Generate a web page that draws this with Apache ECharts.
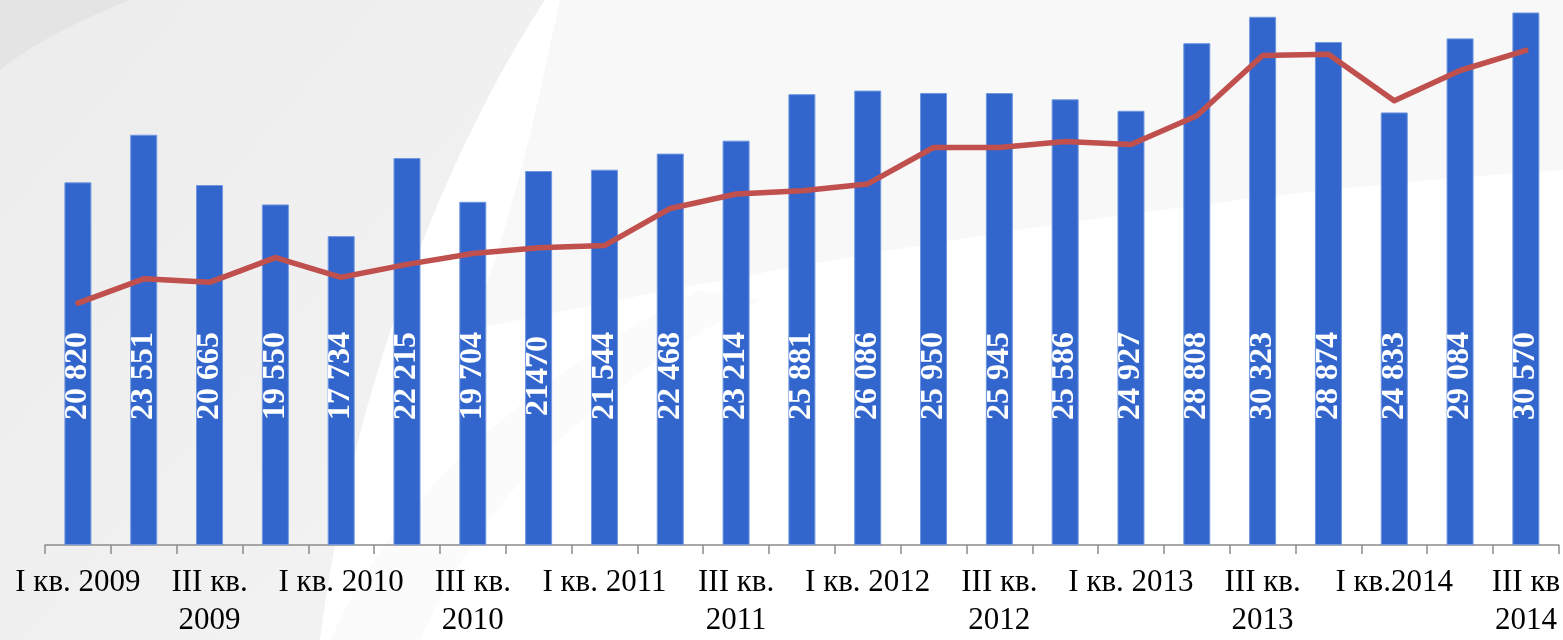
<!DOCTYPE html>
<html>
<head>
<meta charset="utf-8">
<script src="https://cdn.jsdelivr.net/npm/echarts@6/dist/echarts.min.js"></script>
<style>
html,body{margin:0;padding:0;background:#fff;}
#wrap{position:relative;width:1563px;height:640px;overflow:hidden;}
#bg{position:absolute;left:0;top:0;}
#chart{position:absolute;left:0;top:0;width:1563px;height:640px;}
</style>
</head>
<body>
<div id="wrap">
<svg id="bg" width="1563" height="640" xmlns="http://www.w3.org/2000/svg">
  <defs>
    <linearGradient id="g1" x1="0" y1="0" x2="1" y2="1">
      <stop offset="0" stop-color="#ececec"/>
      <stop offset="1" stop-color="#f4f4f4"/>
    </linearGradient>
  </defs>
  <rect x="0" y="0" width="1563" height="640" fill="#ffffff"/>
  <path d="M560 0 L1563 0 L1563 170 C 1250 190, 900 240, 470 330 C 520 200, 540 90, 560 0 Z" fill="#f8f8f8"/>
  <path d="M0 0 L545 0 C 440 160, 350 400, 320 640 L0 640 Z" fill="url(#g1)"/>
  <path d="M700 290 C 560 360, 400 480, 330 640 L 420 640 C 480 500, 600 380, 760 300 Z" fill="#fbfbfb"/>
  <path d="M0 0 L130 0 C 80 20, 30 45, 0 70 Z" fill="#e4e4e4"/>
</svg>
<div id="chart"></div>
</div>
<script>
// Categories (quarters) — as displayed on the axis
var categories = [
  'I кв. 2009','II кв. 2009','III кв.\n2009','IV кв. 2009',
  'I кв. 2010','II кв. 2010','III кв.\n2010','IV кв. 2010',
  'I кв. 2011','II кв. 2011','III кв.\n2011','IV кв. 2011',
  'I кв. 2012','II кв. 2012','III кв.\n2012','IV кв. 2012',
  'I кв. 2013','II кв. 2013','III кв.\n2013','IV кв. 2013',
  'I кв.2014','II кв.2014','III кв\n2014'
];
// Bar values
var barValues = [20820,23551,20665,19550,17734,22215,19704,21470,21544,22468,23214,25881,26086,25950,25945,25586,24927,28808,30323,28874,24833,29084,30570];
// Bar label texts as printed
var barLabels = ['20 820','23 551','20 665','19 550','17 734','22 215','19 704','21470','21 544','22 468','23 214','25 881','26 086','25 950','25 945','25 586','24 927','28 808','30 323','28 874','24 833','29 084','30 570'];
// Red line values (same scale)
var lineValues = [13890,15280,15080,16500,15370,16110,16730,17070,17190,19320,20150,20340,20730,22820,22820,23170,22990,24640,28100,28170,25500,27240,28400];

var chart = echarts.init(document.getElementById('chart'));
var option = {
  backgroundColor: 'transparent',
  animation: false,
  grid: { left: 45, right: 0, top: 5, bottom: 90, containLabel: false },
  xAxis: {
    type: 'category',
    data: categories,
    boundaryGap: true,
    axisLine: { show: true, lineStyle: { color: '#8c8c8c', width: 1.5 } },
    axisTick: { show: true, interval: 0, alignWithLabel: false, length: 9, lineStyle: { color: '#8c8c8c', width: 1.5 } },
    axisLabel: {
      interval: 1,
      color: '#000',
      fontFamily: 'Liberation Serif',
      fontSize: 31,
      lineHeight: 38,
      margin: 19
    },
    splitLine: { show: false }
  },
  yAxis: {
    type: 'value', min: 0, max: 31000, show: false,
    splitLine: { show: false }
  },
  series: [
    {
      type: 'bar',
      data: barValues,
      barWidth: 27,
      itemStyle: { color: '#3366CC', borderColor: '#7097E0', borderWidth: 1 },
      label: {
        show: true,
        position: 'insideBottom',
        distance: 169,
        rotate: 90,
        align: 'center',
        verticalAlign: 'middle',
        color: '#ffffff',
        fontFamily: 'Liberation Serif',
        fontWeight: 'bold',
        fontSize: 32,
        formatter: function (p) { return barLabels[p.dataIndex]; }
      },
      z: 2
    },
    {
      type: 'line',
      data: lineValues,
      symbol: 'none',
      smooth: false,
      lineStyle: { color: '#C0504D', width: 5.5, cap: 'round', join: 'round' },
      z: 3
    }
  ]
};
chart.setOption(option);
</script>
</body>
</html>
